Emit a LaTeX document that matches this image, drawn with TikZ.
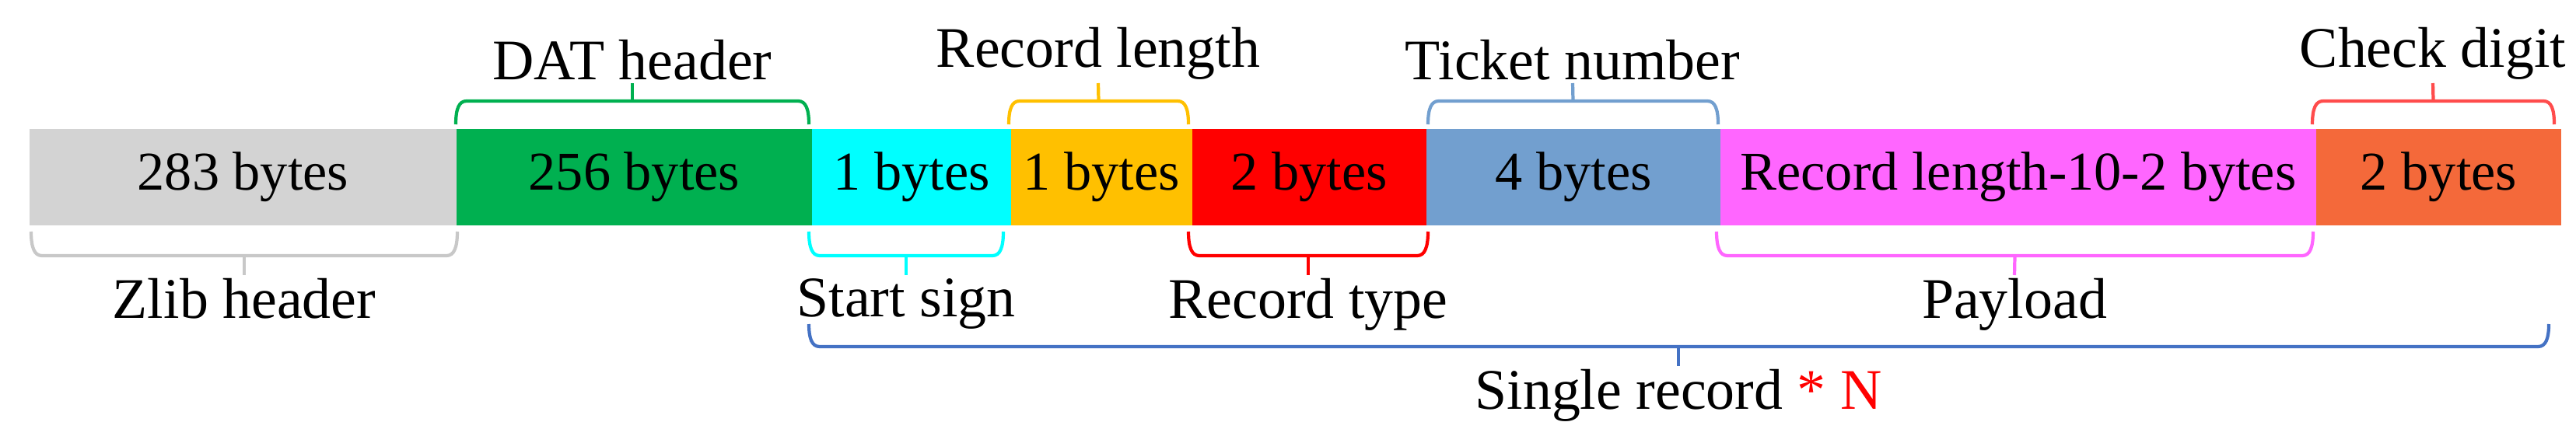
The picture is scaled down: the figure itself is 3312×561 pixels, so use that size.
\documentclass[tikz,border=0pt]{standalone}
\usepackage{fontspec}
\setmainfont{Liberation Serif}
\begin{document}
\begin{tikzpicture}[x=0.01cm,y=-0.01cm,
  seg/.style={draw=none,inner sep=0pt,minimum height=1.24cm,font=\fontsize{20}{24}\selectfont},
  lab/.style={inner sep=1pt,font=\fontsize{21}{24}\selectfont},
  br/.style={line width=1.2pt}]
\useasboundingbox (0,0) rectangle (3312,561);
\definecolor{cgray}{HTML}{D3D3D3}
\definecolor{cgreen}{HTML}{00B050}
\definecolor{ccyan}{HTML}{00FFFF}
\definecolor{cyel}{HTML}{FFC000}
\definecolor{cred}{HTML}{FF0000}
\definecolor{cblue}{HTML}{729FCF}
\definecolor{cmag}{HTML}{FF66FF}
\definecolor{corg}{HTML}{F4693A}
\definecolor{cdblue}{HTML}{4472C4}
\definecolor{cbgray}{HTML}{C8C8C8}
\node[seg,fill=cgray,minimum width=5.49cm] (s1) at (312.5,228) {283 bytes};
\node[seg,fill=cgreen,minimum width=4.57cm] (s2) at (815.5,228) {256 bytes};
\node[seg,fill=ccyan,minimum width=2.56cm] (s3) at (1172,228) {1 bytes};
\node[seg,fill=cyel,minimum width=2.33cm] (s4) at (1416.5,228) {1 bytes};
\node[seg,fill=cred,minimum width=3.01cm] (s5) at (1683.5,228) {2 bytes};
\node[seg,fill=cblue,minimum width=3.78cm] (s6) at (2023,228) {4 bytes};
\node[seg,fill=cmag,minimum width=7.66cm] (s7) at (2595,228) {Record length-10-2 bytes};
\node[seg,fill=corg,minimum width=3.15cm] (s8) at (3135.5,228) {2 bytes};
% top labels
\node[lab,anchor=south] (tDAT) at (813,107) {DAT header};
\node[lab,anchor=south] (tRL) at (1412,107) {Record length};
\node[lab,anchor=south] (tTN) at (2022,107) {Ticket number};
\node[lab,anchor=south] (tCD) at (3128,107) {Check digit};
% bottom labels
\node[lab,anchor=north] (bZ) at (314,354) {Zlib header};
\node[lab,anchor=north] (bS) at (1165,354) {Start sign};
\node[lab,anchor=north] (bR) at (1682,354) {Record type};
\node[lab,anchor=north] (bP) at (2590,354) {Payload};
\node[lab,anchor=north] (bN) at (2158,471) {Single record \textcolor{cred}{* N}};
% top braces
\foreach \a/\b/\c/\t in {586/1040/cgreen/tDAT,1297/1528/cyel/tRL,1836/2209/cblue/tTN,2973/3284/cred!70/tCD}{
  \draw[br,\c] (\a,160) .. controls (\a,140) and (\a+4,130) .. (\a+14,130) -- (\b-14,130) .. controls (\b-4,130) and (\b,140) .. (\b,160);
  \draw[br,\c] ({(\a+\b)/2},130) -- (\t.south);
}
% bottom braces
\foreach \a/\b/\c/\t in {40/588/cbgray/bZ,1040/1290/ccyan/bS,1528/1836/cred/bR,2207/2974/cmag/bP}{
  \draw[br,\c] (\a,298) .. controls (\a,318) and (\a+4,329) .. (\a+14,329) -- (\b-14,329) .. controls (\b-4,329) and (\b,318) .. (\b,298);
  \draw[br,\c] ({(\a+\b)/2},329) -- (\t.north);
}
\draw[br,cdblue] (1040,417) .. controls (1040,436) and (1044,446) .. (1054,446) -- (3263,446) .. controls (3273,446) and (3277,436) .. (3277,417);
\draw[br,cdblue] (2158,446) -- (bN.north);
\end{tikzpicture}
\end{document}
